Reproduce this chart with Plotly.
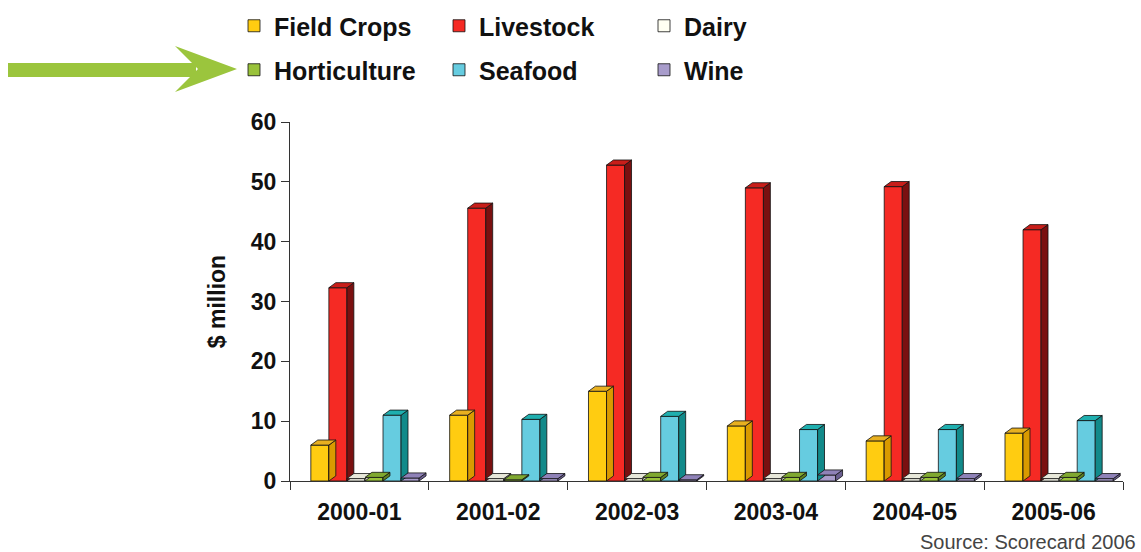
import plotly.graph_objects as go

# ---------------- data ----------------
years = ["2000-01", "2001-02", "2002-03", "2003-04", "2004-05", "2005-06"]
field_crops = [6.0, 11.0, 15.0, 9.2, 6.7, 8.0]
livestock = [32.3, 45.6, 52.8, 49.0, 49.2, 42.0]
dairy = [0.4, 0.4, 0.4, 0.4, 0.4, 0.4]
horticulture = [0.6, 0.2, 0.6, 0.6, 0.6, 0.6]
seafood = [11.0, 10.3, 10.8, 8.6, 8.6, 10.1]
wine = [0.5, 0.4, 0.2, 1.0, 0.4, 0.4]
y_ticks = [0, 10, 20, 30, 40, 50, 60]

series = [
    ("Field Crops", field_crops, "#FFCC11", "#D99A00", "#E8B020", "legend"),
    ("Livestock", livestock, "#F52A24", "#7A1010", "#C81E1A", "legend"),
    ("Dairy", dairy, "#FFFFF2", "#C8C8B8", "#E8E8DA", "legend"),
    ("Horticulture", horticulture, "#99C23A", "#5E8020", "#80A830", "legend2"),
    ("Seafood", seafood, "#66CCE0", "#128A8A", "#1FAFAF", "legend2"),
    ("Wine", wine, "#A89CCB", "#6A5E90", "#8F82B8", "legend2"),
]

# ---------------- geometry ----------------
W, H = 1141, 552
ML, MR, MT, MB = 290, 18, 122, 71
PW, PH = W - ML - MR, H - MT - MB

def px2x(px):
    return (px - ML) / PW

def py2y(py):
    return 1 - (py - MT) / PH

bar_w = 0.13
start = -0.35
dx = 0.05   # depth in category units
dy = 0.85   # depth in value units
xs = list(range(len(years)))

fig = go.Figure()
FONT = "Liberation Sans, Arial, sans-serif"

for k, (name, vals, front, side, top, lg) in enumerate(series):
    off = start + k * bar_w
    sx, sy, tx, ty = [], [], [], []
    for xi, v in zip(xs, vals):
        x0 = xi + off
        x1 = x0 + bar_w
        sx += [x1, x1 + dx, x1 + dx, x1, x1, None]
        sy += [0, dy, v + dy, v, 0, None]
        tx += [x0, x0 + dx, x1 + dx, x1, x0, None]
        ty += [v, v + dy, v + dy, v, v, None]
    fig.add_trace(go.Scatter(x=sx, y=sy, mode="lines", fill="toself", fillcolor=side,
                             line=dict(color="#111", width=0.8), showlegend=False,
                             hoverinfo="skip"))
    fig.add_trace(go.Scatter(x=tx, y=ty, mode="lines", fill="toself", fillcolor=top,
                             line=dict(color="#111", width=0.8), showlegend=False,
                             hoverinfo="skip"))
    fig.add_trace(go.Bar(x=xs, y=vals, name=name, offset=off, width=bar_w,
                         marker=dict(color=front, line=dict(color="#111", width=0.8)),
                         legend=lg))

# green arrow (decoration)
green = "#9BC53D"
fig.add_shape(type="rect", xref="paper", yref="paper",
              x0=px2x(8), x1=px2x(196), y0=py2y(77), y1=py2y(63),
              fillcolor=green, line=dict(width=0))
fig.add_shape(type="path", xref="paper", yref="paper",
              path=("M {a},{b} L {c},{d} L {e},{f} L {g},{h} Z").format(
                  a=px2x(175), b=py2y(46), c=px2x(237), d=py2y(69),
                  e=px2x(175), f=py2y(92), g=px2x(198), h=py2y(69)),
              fillcolor=green, line=dict(width=0))

fig.add_annotation(text="Source: Scorecard 2006", xref="paper", yref="paper",
                   x=px2x(1138), y=py2y(555), xanchor="right", yanchor="bottom",
                   showarrow=False, font=dict(family=FONT, size=20, color="#444"))

legend_common = dict(orientation="h", xanchor="left", yanchor="middle",
                     x=px2x(234), entrywidth=160, entrywidthmode="pixels",
                     font=dict(family=FONT, size=25, color="#111", weight="bold"),
                     bgcolor="rgba(0,0,0,0)", tracegroupgap=0, itemclick=False)

fig.update_layout(
    width=W, height=H,
    margin=dict(l=ML, r=MR, t=MT, b=MB, autoexpand=False),
    paper_bgcolor="white", plot_bgcolor="white",
    barmode="overlay",
    font=dict(family=FONT, color="#111"),
    legend=dict(legend_common, y=py2y(26)),
    legend2=dict(legend_common, y=py2y(70)),
    xaxis=dict(range=[-0.5, 5.5], tickmode="array", tickvals=xs, ticktext=years,
               ticks="", showgrid=False, zeroline=False, showline=True,
               linecolor="#333", linewidth=1.2, ticklabelstandoff=10,
               tickfont=dict(family=FONT, size=23, color="#111", weight="bold"),
               minor=dict(tickmode="array", tickvals=[i - 0.5 for i in range(len(years) + 1)],
                          ticks="outside", ticklen=8, tickcolor="#333", tickwidth=1.2,
                          showgrid=False)),
    yaxis=dict(range=[0, 60], tickmode="array", tickvals=y_ticks, ticks="outside",
               ticklen=8, tickcolor="#333", tickwidth=1.2, showgrid=False,
               zeroline=False, showline=True, linecolor="#333", linewidth=1.2,
               tickfont=dict(family=FONT, size=23, color="#111", weight="bold"),
               title=dict(text="$ million", standoff=18,
                          font=dict(family=FONT, size=23, color="#111", weight="bold"))),
)

fig.write_html("out.html")
